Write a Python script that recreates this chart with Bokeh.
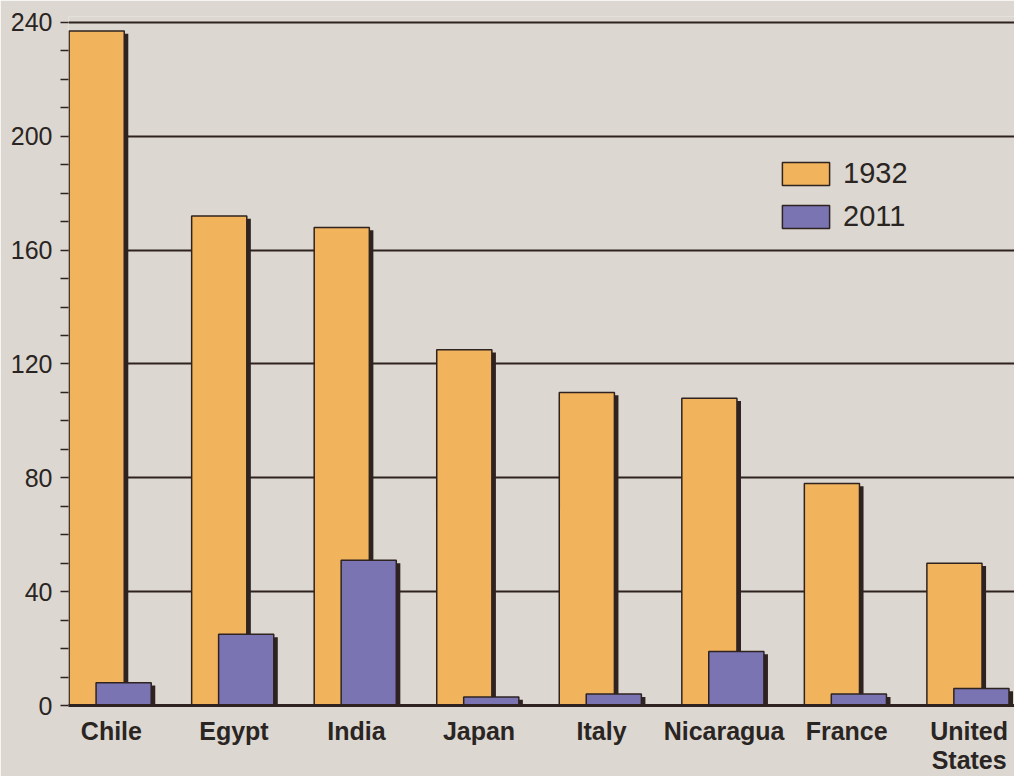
from bokeh.plotting import figure
from bokeh.models import ColumnDataSource, Range1d, FixedTicker, Legend, LegendItem
from bokeh.transform import dodge
from bokeh.embed import file_html
from bokeh.resources import INLINE

countries = ["Chile", "Egypt", "India", "Japan", "Italy", "Nicaragua", "France", "United States"]
tick_labels = ["Chile", "Egypt", "India", "Japan", "Italy", "Nicaragua", "France", "United\nStates"]
values_1932 = [237, 172, 168, 125, 110, 108, 78, 50]
values_2011 = [8, 25, 51, 3, 4, 19, 4, 6]
y_ticks = [0, 40, 80, 120, 160, 200, 240]
y_minor_ticks = [10, 20, 30, 50, 60, 70, 90, 100, 110, 130, 140, 150, 170, 180, 190, 210, 220, 230]
series_names = ["1932", "2011"]

BG = "#dcd7d1"
ORANGE = "#f1b35c"
PURPLE = "#7a74b2"
DARK = "#2e2320"
TEXT = "#2a2522"

idx = list(range(len(countries)))
src = ColumnDataSource(dict(
    x=idx,
    v1932=values_1932,
    v2011=values_2011,
    s1932=[v - 1 for v in values_1932],
    s2011=[max(v - 1, 0.5) for v in values_2011],
))

p = figure(width=1014, height=776, output_backend="svg", toolbar_location=None,
           x_range=Range1d(-0.35, 7.37), y_range=Range1d(0, 242.1),
           min_border_left=68, min_border_right=0, min_border_top=16, min_border_bottom=60)

p.background_fill_color = BG
p.border_fill_color = BG
p.outline_line_color = None

W = 0.45
OFF1 = -0.12
OFF2 = 0.1
SH = 0.033

p.vbar(x=dodge("x", OFF1 + SH, range=p.x_range), top="s1932", bottom=0, width=W, source=src,
       fill_color=DARK, line_color=None)
r1 = p.vbar(x=dodge("x", OFF1, range=p.x_range), top="v1932", bottom=0, width=W, source=src,
            fill_color=ORANGE, line_color=DARK, line_width=1.5)
p.vbar(x=dodge("x", OFF2 + SH, range=p.x_range), top="s2011", bottom=0, width=W, source=src,
       fill_color=DARK, line_color=None)
r2 = p.vbar(x=dodge("x", OFF2, range=p.x_range), top="v2011", bottom=0, width=W, source=src,
            fill_color=PURPLE, line_color=DARK, line_width=1.5)

# grid
p.xgrid.grid_line_color = None
p.ygrid.grid_line_color = DARK
p.ygrid.grid_line_width = 1.8
p.ygrid.level = "underlay"

# y axis
p.yaxis.ticker = FixedTicker(ticks=y_ticks, minor_ticks=y_minor_ticks)
p.yaxis.axis_line_color = None
p.yaxis.major_tick_in = 0
p.yaxis.major_tick_out = 8
p.yaxis.minor_tick_in = 0
p.yaxis.minor_tick_out = 8
p.yaxis.major_tick_line_color = DARK
p.yaxis.minor_tick_line_color = DARK
p.yaxis.major_tick_line_width = 1.6
p.yaxis.minor_tick_line_width = 1.6
p.yaxis.major_label_text_font = "Liberation Sans"
p.yaxis.major_label_text_font_size = "25px"
p.yaxis.major_label_text_color = TEXT
p.yaxis.major_label_standoff = 8

# x axis
p.xaxis.ticker = FixedTicker(ticks=idx)
p.xaxis.major_label_overrides = {i: lab for i, lab in zip(idx, tick_labels)}
p.xaxis.axis_line_color = DARK
p.xaxis.axis_line_width = 3
p.xaxis.major_tick_line_color = None
p.xaxis.minor_tick_line_color = None
p.xaxis.major_label_text_font = "Liberation Sans"
p.xaxis.major_label_text_font_style = "bold"
p.xaxis.major_label_text_font_size = "25px"
p.xaxis.major_label_text_color = TEXT
p.xaxis.major_label_standoff = 5
p.xaxis.major_label_text_line_height = 1.05

legend = Legend(items=[LegendItem(label=series_names[0], renderers=[r1]),
                       LegendItem(label=series_names[1], renderers=[r2])],
                location=(708, 472), orientation="vertical",
                glyph_width=59, glyph_height=29, spacing=10, padding=0, margin=0,
                label_standoff=8, label_text_font="Liberation Sans",
                label_text_font_size="29px", label_text_color=TEXT,
                border_line_color=None, background_fill_alpha=0)
p.add_layout(legend)

open("out.html", "w").write(file_html(p, INLINE))
